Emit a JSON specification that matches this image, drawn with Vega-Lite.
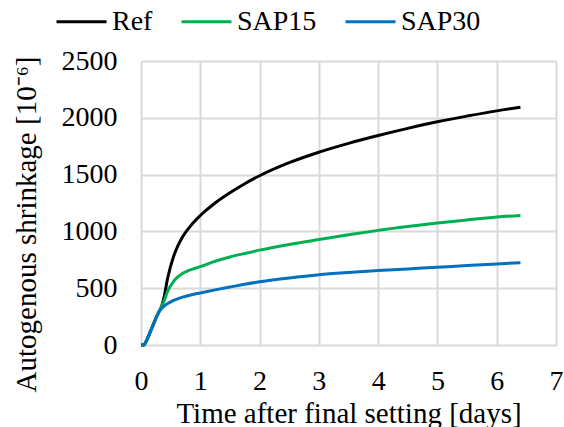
{
  "$schema": "https://vega.github.io/schema/vega-lite/v6.json",
  "width": 415,
  "height": 284,
  "autosize": {"type": "none"},
  "padding": {"left": 141, "top": 61, "right": 8, "bottom": 82},
  "background": "white",
  "config": {
    "view": {"stroke": null},
    "font": "Liberation Serif"
  },
  "data": {
    "values": [
      {"t": 0, "v": 0, "s": "Ref"},
      {"t": 0.05, "v": 0, "s": "Ref"},
      {"t": 0.08, "v": 25, "s": "Ref"},
      {"t": 0.12, "v": 70, "s": "Ref"},
      {"t": 0.16, "v": 120, "s": "Ref"},
      {"t": 0.2, "v": 170, "s": "Ref"},
      {"t": 0.25, "v": 235, "s": "Ref"},
      {"t": 0.3, "v": 290, "s": "Ref"},
      {"t": 0.34, "v": 330, "s": "Ref"},
      {"t": 0.38, "v": 400, "s": "Ref"},
      {"t": 0.45, "v": 590, "s": "Ref"},
      {"t": 0.55, "v": 780, "s": "Ref"},
      {"t": 0.62, "v": 870, "s": "Ref"},
      {"t": 0.7, "v": 950, "s": "Ref"},
      {"t": 0.8, "v": 1025, "s": "Ref"},
      {"t": 0.9, "v": 1088, "s": "Ref"},
      {"t": 1, "v": 1140, "s": "Ref"},
      {"t": 1.25, "v": 1250, "s": "Ref"},
      {"t": 1.5, "v": 1340, "s": "Ref"},
      {"t": 1.75, "v": 1420, "s": "Ref"},
      {"t": 2, "v": 1490, "s": "Ref"},
      {"t": 2.5, "v": 1605, "s": "Ref"},
      {"t": 3, "v": 1697, "s": "Ref"},
      {"t": 3.5, "v": 1775, "s": "Ref"},
      {"t": 4, "v": 1844, "s": "Ref"},
      {"t": 4.5, "v": 1907, "s": "Ref"},
      {"t": 5, "v": 1965, "s": "Ref"},
      {"t": 5.5, "v": 2015, "s": "Ref"},
      {"t": 6, "v": 2061, "s": "Ref"},
      {"t": 6.4, "v": 2093, "s": "Ref"},
      {"t": 0, "v": 0, "s": "SAP15"},
      {"t": 0.05, "v": 0, "s": "SAP15"},
      {"t": 0.08, "v": 25, "s": "SAP15"},
      {"t": 0.12, "v": 70, "s": "SAP15"},
      {"t": 0.16, "v": 120, "s": "SAP15"},
      {"t": 0.2, "v": 170, "s": "SAP15"},
      {"t": 0.25, "v": 235, "s": "SAP15"},
      {"t": 0.3, "v": 290, "s": "SAP15"},
      {"t": 0.34, "v": 330, "s": "SAP15"},
      {"t": 0.38, "v": 375, "s": "SAP15"},
      {"t": 0.45, "v": 475, "s": "SAP15"},
      {"t": 0.55, "v": 560, "s": "SAP15"},
      {"t": 0.62, "v": 600, "s": "SAP15"},
      {"t": 0.7, "v": 630, "s": "SAP15"},
      {"t": 0.8, "v": 655, "s": "SAP15"},
      {"t": 0.9, "v": 673, "s": "SAP15"},
      {"t": 1, "v": 690, "s": "SAP15"},
      {"t": 1.25, "v": 737, "s": "SAP15"},
      {"t": 1.5, "v": 775, "s": "SAP15"},
      {"t": 1.75, "v": 806, "s": "SAP15"},
      {"t": 2, "v": 835, "s": "SAP15"},
      {"t": 2.5, "v": 885, "s": "SAP15"},
      {"t": 3, "v": 928, "s": "SAP15"},
      {"t": 3.5, "v": 970, "s": "SAP15"},
      {"t": 4, "v": 1009, "s": "SAP15"},
      {"t": 4.5, "v": 1043, "s": "SAP15"},
      {"t": 5, "v": 1074, "s": "SAP15"},
      {"t": 5.5, "v": 1101, "s": "SAP15"},
      {"t": 6, "v": 1126, "s": "SAP15"},
      {"t": 6.4, "v": 1141, "s": "SAP15"},
      {"t": 0, "v": 0, "s": "SAP30"},
      {"t": 0.05, "v": 0, "s": "SAP30"},
      {"t": 0.08, "v": 25, "s": "SAP30"},
      {"t": 0.12, "v": 70, "s": "SAP30"},
      {"t": 0.16, "v": 120, "s": "SAP30"},
      {"t": 0.2, "v": 170, "s": "SAP30"},
      {"t": 0.25, "v": 235, "s": "SAP30"},
      {"t": 0.3, "v": 288, "s": "SAP30"},
      {"t": 0.34, "v": 318, "s": "SAP30"},
      {"t": 0.38, "v": 338, "s": "SAP30"},
      {"t": 0.45, "v": 365, "s": "SAP30"},
      {"t": 0.55, "v": 393, "s": "SAP30"},
      {"t": 0.7, "v": 422, "s": "SAP30"},
      {"t": 0.85, "v": 442, "s": "SAP30"},
      {"t": 1, "v": 458, "s": "SAP30"},
      {"t": 1.25, "v": 485, "s": "SAP30"},
      {"t": 1.5, "v": 510, "s": "SAP30"},
      {"t": 1.75, "v": 535, "s": "SAP30"},
      {"t": 2, "v": 556, "s": "SAP30"},
      {"t": 2.5, "v": 590, "s": "SAP30"},
      {"t": 3, "v": 618, "s": "SAP30"},
      {"t": 3.5, "v": 638, "s": "SAP30"},
      {"t": 4, "v": 655, "s": "SAP30"},
      {"t": 4.5, "v": 670, "s": "SAP30"},
      {"t": 5, "v": 684, "s": "SAP30"},
      {"t": 5.5, "v": 699, "s": "SAP30"},
      {"t": 6, "v": 713, "s": "SAP30"},
      {"t": 6.4, "v": 725, "s": "SAP30"}
    ]
  },
  "mark": {"type": "line", "strokeWidth": 3, "interpolate": "monotone"},
  "encoding": {
    "x": {
      "field": "t",
      "type": "quantitative",
      "scale": {"domain": [0, 7], "nice": false},
      "axis": {
        "title": "Time after final setting [days]",
        "values": [0, 1, 2, 3, 4, 5, 6, 7],
        "format": "d",
        "grid": true,
        "gridColor": "#d9d9d9",
        "gridWidth": 2,
        "domain": false,
        "ticks": false,
        "tickSize": 0,
        "labelFont": "Liberation Serif",
        "labelFontSize": 28,
        "labelColor": "#000000",
        "labelPadding": 22,
        "labelFlush": false,
        "titleFont": "Liberation Serif",
        "titleFontSize": 29,
        "titleFontWeight": "normal",
        "titleColor": "#000000",
        "titleBaseline": "alphabetic",
        "titleY": 77
      }
    },
    "y": {
      "field": "v",
      "type": "quantitative",
      "scale": {"domain": [0, 2500], "nice": false},
      "axis": {
        "title": "Autogenous shrinkage [10⁻⁶]",
        "values": [0, 500, 1000, 1500, 2000, 2500],
        "format": "d",
        "grid": true,
        "gridColor": "#d9d9d9",
        "gridWidth": 2,
        "domain": false,
        "ticks": false,
        "tickSize": 0,
        "labelFont": "Liberation Serif",
        "labelFontSize": 28,
        "labelColor": "#000000",
        "labelPadding": 24,
        "labelFlush": false,
        "titleFont": "Liberation Serif",
        "titleFontSize": 29,
        "titleFontWeight": "normal",
        "titleColor": "#000000",
        "titleBaseline": "alphabetic",
        "titleAlign": "center",
        "titleX": -106,
        "titleY": 163
      }
    },
    "color": {
      "field": "s",
      "type": "nominal",
      "scale": {"domain": ["Ref", "SAP15", "SAP30"], "range": ["#000000", "#00b050", "#0070c0"]},
      "legend": {
        "title": null,
        "orient": "none",
        "legendX": -86,
        "legendY": -66,
        "direction": "horizontal",
        "symbolType": "stroke",
        "symbolSize": 2500,
        "symbolStrokeWidth": 3,
        "labelFont": "Liberation Serif",
        "labelFontSize": 28,
        "labelColor": "#000000",
        "labelOffset": 4,
        "columnPadding": 22,
        "labelLimit": 200
      }
    }
  }
}
